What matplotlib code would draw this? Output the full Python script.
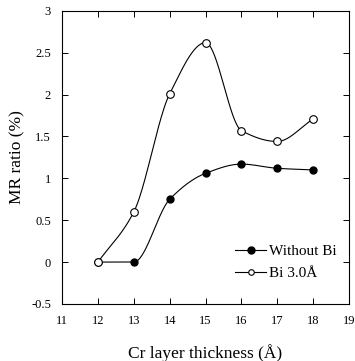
import numpy as np
import matplotlib
matplotlib.use('Agg')
import matplotlib.pyplot as pp

# data
thickness = [12, 13, 14, 15, 16, 17, 18]
mr_without_bi = [0.0, 0.0, 0.75, 1.06, 1.17, 1.12, 1.10]
mr_bi_30 = [0.0, 0.60, 2.01, 2.62, 1.57, 1.44, 1.71]

pp.rcParams['font.family'] = ['Liberation Serif', 'DejaVu Serif']


def smooth_line(x, y, n=40):
    # monotone cubic (Fritsch-Carlson) through the points, for drawing only
    x = np.asarray(x, float)
    y = np.asarray(y, float)
    h = np.diff(x)
    d = np.diff(y) / h
    m = np.zeros_like(y)
    m[0], m[-1] = d[0], d[-1]
    for i in range(1, len(x) - 1):
        if d[i - 1] * d[i] > 0:
            w1 = 2 * h[i] + h[i - 1]
            w2 = h[i] + 2 * h[i - 1]
            m[i] = (w1 + w2) / (w1 / d[i - 1] + w2 / d[i])
    xs, ys = [], []
    t = np.linspace(0, 1, n)
    for i in range(len(x) - 1):
        h00 = 2 * t ** 3 - 3 * t ** 2 + 1
        h10 = t ** 3 - 2 * t ** 2 + t
        h01 = -2 * t ** 3 + 3 * t ** 2
        h11 = t ** 3 - t ** 2
        xs.extend(x[i] + t * h[i])
        ys.extend(h00 * y[i] + h10 * h[i] * m[i] + h01 * y[i + 1] + h11 * h[i] * m[i + 1])
    return np.array(xs), np.array(ys)


fig = pp.figure(figsize=(3.55, 3.61), dpi=100)
ax = fig.add_axes([0.175, 0.158, 0.808, 0.812])

xa, ya = smooth_line(thickness, mr_without_bi)
ax.plot(xa, ya, color='k', lw=0.8)
xb, yb = smooth_line(thickness, mr_bi_30)
ax.plot(xb, yb, color='k', lw=0.8)

ax.plot(thickness, mr_without_bi, 'o', color='k', ms=5, mfc='k')
ax.plot(thickness, mr_bi_30, 'o', color='k', ms=5.5, mfc='white', mew=0.8)

# legend proxies
h1, = ax.plot([], [], '-o', color='k', lw=0.8, ms=5, mfc='k', label='Without Bi')
h2, = ax.plot([], [], '-o', color='k', lw=0.8, ms=4, mfc='white', mew=0.8,
              label='Bi 3.0Å')
leg = ax.legend(handles=[h1, h2], loc='lower right', bbox_to_anchor=(1.005, 0.035),
                frameon=False, fontsize=11, handlelength=2.0, handletextpad=0.2,
                labelspacing=0.55)

ax.set_xlim(11, 19)
ax.set_ylim(-0.5, 3)
ax.set_xticks(range(11, 20))
ax.set_yticks([-0.5, 0, 0.5, 1, 1.5, 2, 2.5, 3])
ax.set_yticklabels(['-0.5', '0', '0.5', '1', '1.5', '2', '2.5', '3'])
ax.tick_params(direction='in', top=True, right=True, length=4, width=0.7,
               labelsize=9, pad=8)
for s in ax.spines.values():
    s.set_linewidth(0.8)

ax.set_xlabel('Cr layer thickness (Å)', fontsize=12.5, labelpad=12)
ax.set_ylabel('MR ratio (%)', fontsize=12.5, labelpad=4)

fig.savefig('out.png', dpi=100)
